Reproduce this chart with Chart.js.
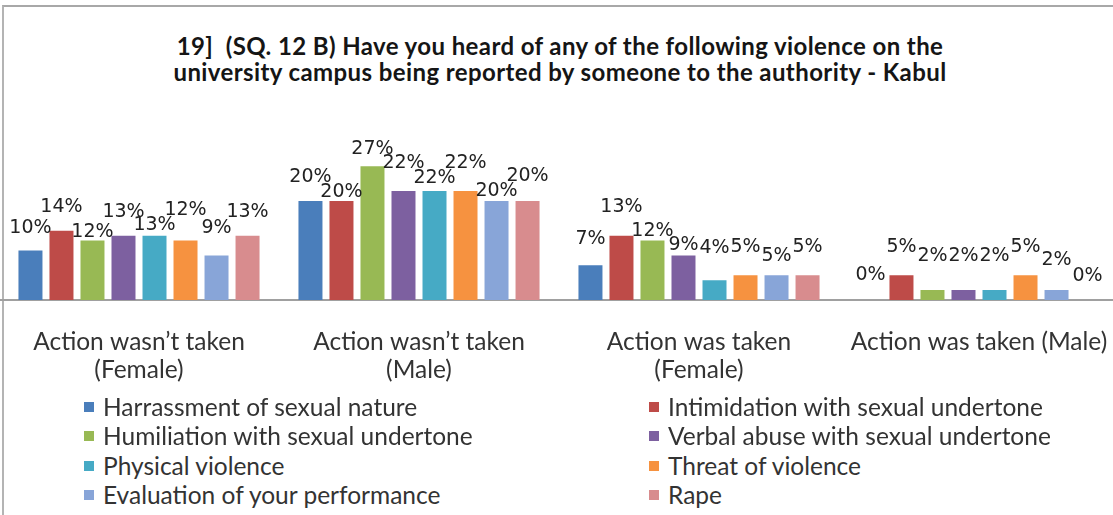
<!DOCTYPE html>
<html>
<head>
<meta charset="utf-8">
<script src="https://cdn.jsdelivr.net/npm/chart.js@4.4.1/dist/chart.umd.min.js"></script>
<style>
  html, body { margin: 0; padding: 0; background: #fff; width: 1113px; height: 515px; overflow: hidden; }
  #frame { position: absolute; left: 2px; top: 5px; width: 1200px; height: 600px;
           border-top: 2px solid #a8a8a8; border-left: 2px solid #b4b4b4; box-sizing: border-box; }
  #title { position: absolute; left: 0; top: 33px; width: 1120px; text-align: center;
           font: bold 24px Lato, sans-serif; letter-spacing: 0.4px; line-height: 26px; color: #151515; }
  #chartBox { position: absolute; left: -1px; top: 0; width: 1120px; height: 400px; }
  .lg-swatch { position: absolute; width: 10px; height: 10px; }
  .lg-text { position: absolute; font: 24.5px Lato, sans-serif; color: #333; white-space: nowrap; line-height: 28px; }
</style>
</head>
<body>
<div id="frame"></div>
<div id="title">19]&nbsp; (SQ. 12 B) Have you heard of any of the following violence on the<br>university campus being reported by someone to the authority - Kabul</div>
<div id="chartBox"><canvas id="chart" width="1120" height="400"></canvas></div>
<div id="legend"></div>
<script>
// Categories (x axis)
const categories = [
  ["Action wasn\u2019t taken", "(Female)"],
  ["Action wasn\u2019t taken", "(Male)"],
  ["Action was taken", "(Female)"],
  "Action was taken (Male)"
];

// Series names
const seriesNames = [
  "Harrassment of sexual nature",
  "Intimidation with sexual undertone",
  "Humiliation with sexual undertone",
  "Verbal abuse with sexual undertone",
  "Physical violence",
  "Threat of violence",
  "Evaluation of your performance",
  "Rape"
];

// Percentages per category, one array per series
const harassment   = [10, 20, 7, 0];
const intimidation = [14, 20, 13, 5];
const humiliation  = [12, 27, 12, 2];
const verbalAbuse  = [13, 22, 9, 2];
const physical     = [13, 22, 4, 2];
const threat       = [12, 22, 5, 5];
const evaluation   = [9, 20, 5, 2];
const rape         = [13, 20, 5, 0];

const seriesValues = [harassment, intimidation, humiliation, verbalAbuse, physical, threat, evaluation, rape];

// Fill colours
const seriesColors = ["#4a7ebb", "#be4b48", "#98b954", "#7d60a0", "#46aac5", "#f69240", "#88a5d8", "#d88c8e"];

// Vertical lift of each value label above its bar top (px), per category then series
const labelLift = [
  [22, 24, 9, 24, 11, 31, 27, 24],
  [24, 9, 17, 28, 13, 28, 10, 25],
  [26, 29, 10, 10, 32, 28, 19, 28],
  [25, 28, 34, 34, 34, 28, 30, 24]
];

const valueLabels = {
  id: 'valueLabels',
  afterDatasetsDraw(chart) {
    const ctx = chart.ctx;
    ctx.save();
    ctx.font = '19px "DejaVu Sans", sans-serif';
    ctx.fillStyle = '#222';
    ctx.textAlign = 'center';
    ctx.textBaseline = 'middle';
    chart.data.datasets.forEach((ds, si) => {
      const meta = chart.getDatasetMeta(si);
      meta.data.forEach((bar, ci) => {
        ctx.fillText(ds.data[ci] + '%', bar.x, bar.y - labelLift[ci][si]);
      });
    });
    ctx.restore();
  }
};

new Chart(document.getElementById('chart'), {
  type: 'bar',
  data: {
    labels: categories,
    datasets: seriesNames.map((name, i) => ({
      label: name,
      data: seriesValues[i],
      backgroundColor: seriesColors[i],
      borderWidth: 0,
      categoryPercentage: 0.886,
      barPercentage: 0.774
    }))
  },
  options: {
    responsive: false,
    animation: false,
    devicePixelRatio: 1,
    layout: { padding: { top: 151.5, left: 0, right: 0, bottom: 0 } },
    plugins: { legend: { display: false }, title: { display: false }, tooltip: { enabled: false } },
    scales: {
      x: {
        grid: { display: false, drawTicks: false },
        border: { display: true, color: '#a0a0a0', width: 2 },
        ticks: {
          padding: 28,
          color: '#333',
          maxRotation: 0,
          autoSkip: false,
          font: { family: 'Lato', size: 24.5, lineHeight: 1.14 }
        },
        afterFit(scale) {
          // the category slots span the full canvas width; labels fit inside their slots
          scale.height = 100;
          scale.paddingLeft = 0;
          scale.paddingRight = 0;
        }
      },
      y: { display: false, min: 0, max: 30 }
    }
  },
  plugins: [valueLabels]
});

// Legend: two columns, four rows
const legend = document.getElementById('legend');
const colX = [84, 649];
const rowY = [407, 436, 466, 495];
seriesNames.forEach((name, i) => {
  const col = i % 2, row = Math.floor(i / 2);
  const sw = document.createElement('div');
  sw.className = 'lg-swatch';
  sw.style.left = colX[col] + 'px';
  sw.style.top = (rowY[row] - 5) + 'px';
  sw.style.background = seriesColors[i];
  legend.appendChild(sw);
  const tx = document.createElement('div');
  tx.className = 'lg-text';
  tx.style.left = (colX[col] + 19) + 'px';
  tx.style.top = (rowY[row] - 14) + 'px';
  tx.textContent = name;
  legend.appendChild(tx);
});
</script>
</body>
</html>
